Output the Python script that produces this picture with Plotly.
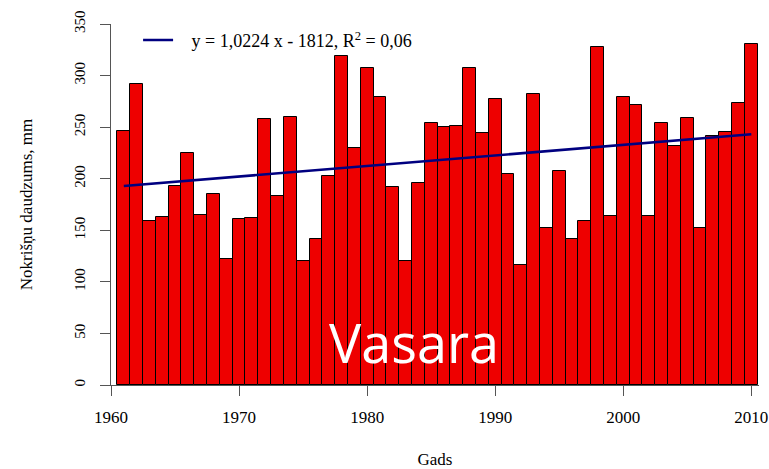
import plotly.graph_objects as go

years = list(range(1961, 2011))
precip = [246, 292, 159, 163, 193, 225, 165, 185, 122, 161,
          162, 258, 183, 260, 120, 142, 203, 319, 230, 307,
          279, 192, 120, 196, 254, 250, 251, 307, 244, 277,
          205, 116, 282, 152, 207, 142, 159, 328, 164, 279,
          271, 164, 254, 232, 259, 152, 241, 245, 273, 331]

trend_slope = 1.0224
trend_intercept = -1812
trend_label = "\u00a0\u00a0\u00a0y = 1,0224 x - 1812, R<sup>2</sup> = 0,06"
trend_x = [years[0], years[-1]]
trend_y = [trend_slope * x + trend_intercept for x in trend_x]

x_ticks = [1960, 1970, 1980, 1990, 2000, 2010]
y_ticks = [0, 50, 100, 150, 200, 250, 300, 350]

serif = "Liberation Serif"

fig = go.Figure()
fig.add_trace(go.Bar(
    x=years, y=precip, width=1.0,
    marker=dict(color="#EE0000", line=dict(color="#000000", width=1)),
    showlegend=False,
))
fig.add_trace(go.Scatter(
    x=trend_x, y=trend_y, mode="lines",
    line=dict(color="#000080", width=2.5),
    name=trend_label, showlegend=True,
))

fig.add_annotation(
    text="Vasara", x=1983.65, y=42, xref="x", yref="y",
    showarrow=False, font=dict(family="Open Sans", size=54, color="white"),
    xanchor="center", yanchor="middle",
)

fig.update_layout(
    width=769, height=469,
    margin=dict(l=111, r=10, t=24, b=84),
    paper_bgcolor="white", plot_bgcolor="white",
    bargap=0,
    font=dict(family=serif, size=15, color="#000000"),
    legend=dict(
        x=0.0418, y=1.006, xanchor="left", yanchor="top",
        bgcolor="rgba(0,0,0,0)", font=dict(family=serif, size=18),
        itemwidth=30,
    ),
    xaxis=dict(
        range=[1960, 2010.6], tickvals=x_ticks,
        ticks="outside", ticklen=10, tickcolor="#555555",
        showline=True, linecolor="#555555", linewidth=1,
        showgrid=False, zeroline=False, automargin=False,
        tickfont=dict(family=serif, size=17),
        ticklabelstandoff=7,
        title=dict(text="Gads", font=dict(family=serif, size=17), standoff=26),
    ),
    yaxis=dict(
        range=[0, 350], tickvals=y_ticks, tickangle=-90,
        ticks="outside", ticklen=10, tickcolor="#555555",
        showline=True, linecolor="#555555", linewidth=1,
        showgrid=False, zeroline=False, automargin=False,
        tickfont=dict(family=serif, size=15),
        ticklabelstandoff=9,
        title=dict(text="Nokrišņu daudzums, mm", font=dict(family=serif, size=17), standoff=35),
    ),
)

fig.write_html(
    "out.html",
    config={"displayModeBar": False},
    post_script="document.body.style.margin='0';document.body.style.padding='0';",
)
